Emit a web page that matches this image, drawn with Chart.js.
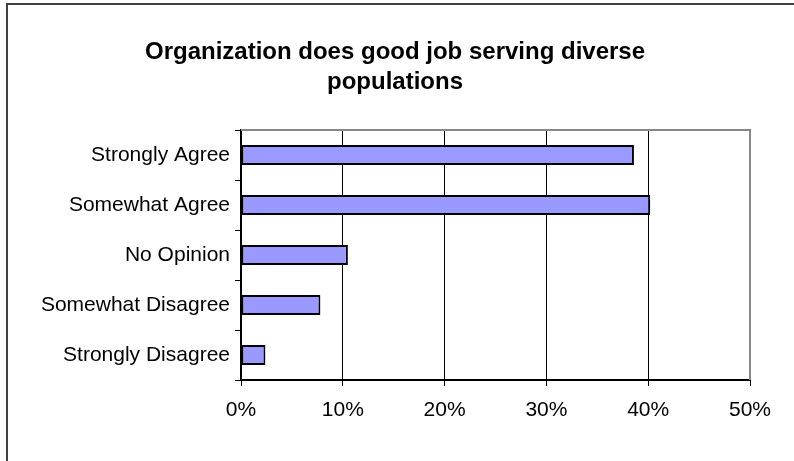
<!DOCTYPE html>
<html>
<head>
<meta charset="utf-8">
<script src="https://cdn.jsdelivr.net/npm/chart.js@4.4.1/dist/chart.umd.min.js"></script>
<style>
  html, body { margin: 0; padding: 0; background: #fff; }
  #wrap { width: 794px; height: 461px; position: relative; }
</style>
</head>
<body>
<div id="wrap"><canvas id="chart"></canvas></div>
<script>
// Survey answers and shares (percent)
const categories = ['Strongly Agree', 'Somewhat Agree', 'No Opinion', 'Somewhat Disagree', 'Strongly Disagree'];
const shares = [38.6, 40.2, 10.5, 7.8, 2.4];
const tickValues = [0, 10, 20, 30, 40, 50];

const titleLines = ['Organization does good job serving diverse', 'populations'];

// frame around the whole picture + gray top/right edge of the plot
const frames = {
  id: 'frames',
  beforeDraw(chart) {
    const ctx = chart.ctx;
    ctx.save();
    ctx.strokeStyle = '#404040';
    ctx.lineWidth = 2;
    ctx.strokeRect(7, 4, 820, 500);
    ctx.restore();
  },
  afterDatasetsDraw(chart) {
    const a = chart.chartArea;
    const ctx = chart.ctx;
    ctx.save();
    ctx.strokeStyle = '#888888';
    ctx.lineWidth = 2;
    ctx.beginPath();
    ctx.moveTo(a.left, a.top);
    ctx.lineTo(a.right, a.top);
    ctx.lineTo(a.right, a.bottom);
    ctx.stroke();
    ctx.restore();
  }
};

const axisFont = { family: 'Liberation Sans, Arial', size: 21 };

const ctx = document.getElementById('chart').getContext('2d');
new Chart(ctx, {
  type: 'bar',
  data: {
    labels: categories,
    datasets: [{
      data: shares,
      backgroundColor: '#9999ff',
      borderColor: '#000000',
      borderWidth: 2,
      borderSkipped: false,
      categoryPercentage: 1,
      barPercentage: 0.4
    }]
  },
  options: {
    indexAxis: 'y',
    responsive: true,
    maintainAspectRatio: false,
    animation: false,
    layout: { padding: { left: 0, right: 4, top: 0, bottom: 0 } },
    plugins: {
      legend: { display: false },
      tooltip: { enabled: false },
      title: {
        display: true,
        text: titleLines,
        color: '#000',
        font: { family: 'Liberation Sans, Arial', size: 24, weight: 'bold', lineHeight: 1.25 },
        padding: { top: 37, bottom: 33 }
      }
    },
    scales: {
      x: {
        min: 0,
        max: 50,
        afterFit(scale) { scale.height = 81; },
        afterBuildTicks(scale) { scale.ticks = tickValues.map(v => ({ value: v })); },
        grid: { color: '#000', lineWidth: 1, tickLength: 6, tickColor: '#000' },
        border: { color: '#000', width: 2 },
        ticks: {
          color: '#000',
          padding: 12,
          maxRotation: 0,
          font: axisFont,
          callback: v => v + '%'
        }
      },
      y: {
        afterFit(scale) { scale.width = 241; },
        grid: { offset: true, drawOnChartArea: false, tickLength: 6, tickColor: '#000' },
        border: { color: '#000', width: 2 },
        ticks: {
          color: '#000',
          padding: 5,
          font: axisFont
        }
      },
      // empty spacer on the right so the plot ends at the same place as the reference
      spacer: {
        type: 'linear',
        position: 'right',
        afterFit(scale) { scale.width = 40; },
        grid: { display: false },
        border: { display: false },
        ticks: { display: false }
      }
    }
  },
  plugins: [frames]
});
</script>
</body>
</html>
